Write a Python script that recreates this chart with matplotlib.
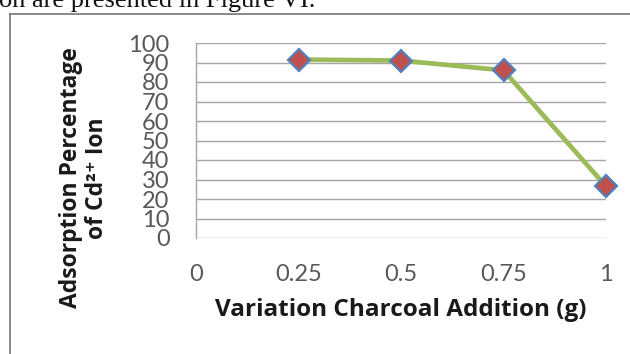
import matplotlib
matplotlib.use("Agg")
import matplotlib.pyplot as plt
from matplotlib.lines import Line2D

# values
charcoal_g = [0.25, 0.5, 0.75, 1.0]
adsorption_pct = [91.5, 91.0, 86.0, 26.5]
x_ticks = [0, 0.25, 0.5, 0.75, 1]
x_tick_labels = ["0", "0.25", "0.5", "0.75", "1"]
y_ticks = list(range(0, 101, 10))

W, H = 630, 354
fig = plt.figure(figsize=(W / 100, H / 100), dpi=100)
fig.patch.set_facecolor("white")

# plot area in pixel terms: left 196, right 606, top 43, bottom 238
ax = fig.add_axes([196 / W, 1 - 238 / H, 410 / W, 195 / H])

ax.plot(charcoal_g, adsorption_pct, color="#9BBB59", lw=3.4, zorder=3,
        solid_capstyle="round")
ax.plot(charcoal_g, adsorption_pct, ls="none", marker="D", ms=11.5,
        mfc="#C0504D", mec="#4F81BD", mew=1.6, zorder=4, clip_on=False)

ax.set_xlim(0, 1)
ax.set_ylim(0, 100)
ax.set_xticks(x_ticks)
ax.set_xticklabels(x_tick_labels)
ax.set_yticks(y_ticks)
ax.grid(axis="y", color="#A6A6A6", lw=1.0)
ax.set_axisbelow(True)
for s in ("top", "right", "bottom"):
    ax.spines[s].set_visible(False)
ax.spines["left"].set_color("#A6A6A6")
ax.spines["left"].set_linewidth(1.0)
ax.tick_params(length=0, labelsize=17, labelcolor="#595959", pad=19)
for lab in ax.get_xticklabels() + ax.get_yticklabels():
    lab.set_family("Lato")

ax.set_xlabel("Variation Charcoal Addition (g)", family="Open Sans",
              fontweight="bold", fontsize=17.5, color="#1a1a1a", labelpad=9)

fig.text(84 / W, 1 - 178 / H, "Adsorption Percentage\nof Cd²⁺ Ion",
         rotation=90, ha="center", va="center", multialignment="center",
         family=["Open Sans", "DejaVu Sans"], fontweight="bold", fontsize=16.5,
         color="#1a1a1a", linespacing=1.1)

# scan leftovers: running text above and the frame around the chart
fig.text(315 / W, 1 - 6.5 / H, "on are presented in Figure VI.",
         family="Liberation Serif", fontsize=19, va="baseline", ha="right",
         color="#111111")
fig.add_artist(Line2D([9.5 / W, 9.5 / W], [1 - 13.5 / H, 0],
                      transform=fig.transFigure, color="#808080", lw=1.3))
fig.add_artist(Line2D([9.5 / W, 1], [1 - 13.5 / H, 1 - 13.5 / H],
                      transform=fig.transFigure, color="#808080", lw=1.3))

fig.savefig("out.png", dpi=100)
